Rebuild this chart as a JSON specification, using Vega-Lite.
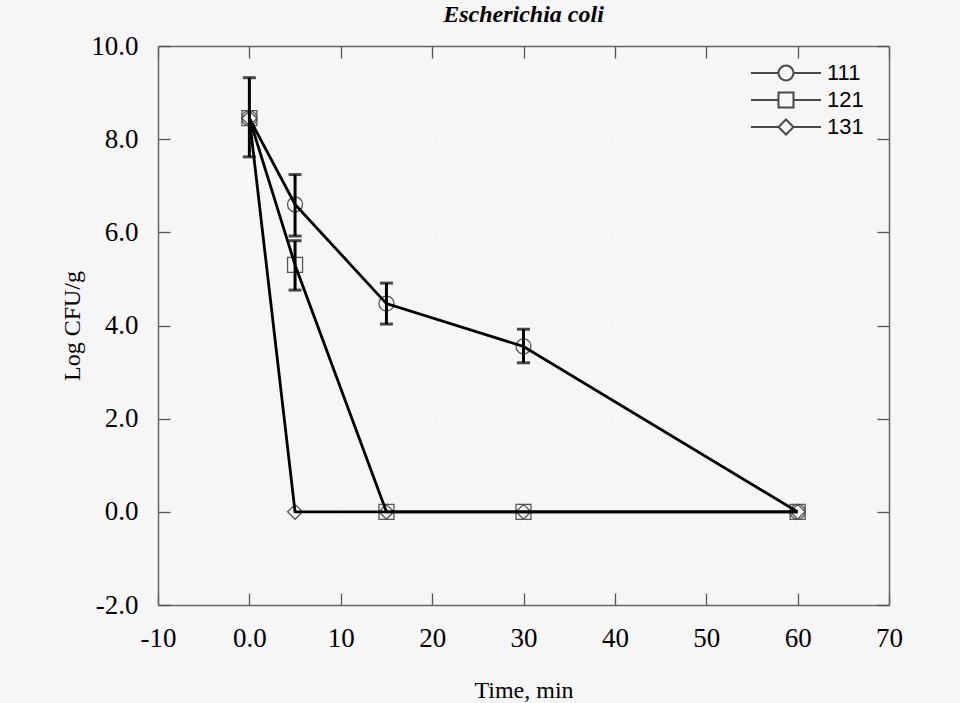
{
  "$schema": "https://vega.github.io/schema/vega-lite/v6.json",
  "width": 731,
  "height": 559,
  "autosize": "none",
  "padding": {"left": 158, "top": 46, "right": 71, "bottom": 98},
  "background": "#f6f6f6",
  "title": {"text": "Escherichia coli", "font": "Liberation Serif", "fontStyle": "italic", "fontWeight": "bold", "fontSize": 24, "color": "black", "anchor": "middle", "offset": 5},
  "config": {
    "view": {"stroke": null},
    "axis": {"domainColor": "#666666", "domainWidth": 1.5, "tickColor": "#555555", "tickWidth": 1.3, "gridColor": "#ffffff", "gridDash": [4, 4], "gridWidth": 1}
  },
  "data": {"values": [
    {"t": 0, "v": 8.45, "s": "111", "lo": 7.62, "hi": 9.32},
    {"t": 5, "v": 6.6, "s": "111", "lo": 5.92, "hi": 7.24},
    {"t": 15, "v": 4.47, "s": "111", "lo": 4.03, "hi": 4.91},
    {"t": 30, "v": 3.55, "s": "111", "lo": 3.2, "hi": 3.92},
    {"t": 60, "v": 0, "s": "111"},
    {"t": 0, "v": 8.45, "s": "121"},
    {"t": 5, "v": 5.3, "s": "121", "lo": 4.76, "hi": 5.82},
    {"t": 15, "v": 0, "s": "121"},
    {"t": 30, "v": 0, "s": "121"},
    {"t": 60, "v": 0, "s": "121"},
    {"t": 0, "v": 8.45, "s": "131"},
    {"t": 5, "v": 0, "s": "131"},
    {"t": 15, "v": 0, "s": "131"},
    {"t": 30, "v": 0, "s": "131"},
    {"t": 60, "v": 0, "s": "131"}
  ]},
  "layer": [
    {
      "mark": {"type": "point", "opacity": 0},
      "encoding": {
        "x": {"field": "t", "type": "quantitative", "scale": {"domain": [-10, 70], "nice": false, "zero": false},
          "axis": {"orient": "top", "values": [-10, 0, 10, 20, 30, 40, 50, 60, 70], "labels": false, "title": null, "tickSize": -12, "grid": false}},
        "y": {"field": "v", "type": "quantitative", "scale": {"domain": [-2, 10], "nice": false, "zero": false},
          "axis": {"orient": "right", "values": [-2, 0, 2, 4, 6, 8, 10], "labels": false, "title": null, "tickSize": -12, "grid": false}}
      }
    },
    {
      "mark": {"type": "point", "filled": false, "size": 225, "stroke": "#555555", "strokeWidth": 1.3, "opacity": 1},
      "encoding": {
        "x": {"field": "t", "type": "quantitative", "scale": {"domain": [-10, 70], "nice": false, "zero": false}, "axis": null},
        "y": {"field": "v", "type": "quantitative", "scale": {"domain": [-2, 10], "nice": false, "zero": false}, "axis": null},
        "shape": {"field": "s", "type": "nominal", "scale": {"domain": ["111", "121", "131"], "range": ["circle", "square", "diamond"]}, "legend": null}
      }
    },
    {
      "mark": {"type": "line", "color": "black", "strokeWidth": 2.8},
      "encoding": {
        "x": {"field": "t", "type": "quantitative", "scale": {"domain": [-10, 70], "nice": false, "zero": false},
          "axis": {"orient": "bottom", "values": [-10, 0, 10, 20, 30, 40, 50, 60, 70],
            "labelExpr": "datum.value == 0 ? '0.0' : (datum.value < 0 ? '-' + toString(-datum.value) : toString(datum.value))",
            "tickSize": -12, "labelPadding": 32, "labelFont": "Liberation Serif", "labelFontSize": 27, "labelColor": "black", "labelFlush": false,
            "title": "Time, min", "titleFont": "Liberation Serif", "titleFontSize": 24, "titleFontWeight": "normal", "titleColor": "black",
            "titleY": 85, "titleBaseline": "middle", "grid": true}},
        "y": {"field": "v", "type": "quantitative", "scale": {"domain": [-2, 10], "nice": false, "zero": false},
          "axis": {"orient": "left", "values": [-2, 0, 2, 4, 6, 8, 10],
            "labelExpr": "datum.value < 0 ? '-' + format(-datum.value, '.1f') : format(datum.value, '.1f')",
            "tickSize": -12, "labelPadding": 32, "labelFont": "Liberation Serif", "labelFontSize": 27, "labelColor": "black", "labelFlush": false,
            "title": "Log CFU/g", "titleFont": "Liberation Serif", "titleFontSize": 24, "titleFontWeight": "normal", "titleColor": "black",
            "titleX": -86, "titleY": 279.5, "titleBaseline": "middle", "titleAlign": "center", "grid": true}},
        "detail": {"field": "s", "type": "nominal"}
      }
    },
    {
      "transform": [{"filter": "isValid(datum.lo)"}],
      "mark": {"type": "errorbar", "ticks": true, "thickness": 3, "size": 13, "color": "black"},
      "encoding": {
        "x": {"field": "t", "type": "quantitative", "scale": {"domain": [-10, 70], "nice": false, "zero": false}, "axis": null},
        "y": {"field": "lo", "type": "quantitative", "scale": {"domain": [-2, 10], "nice": false, "zero": false}, "axis": null},
        "y2": {"field": "hi"}
      }
    },
    {
      "transform": [{"filter": "datum.t < -100"}],
      "mark": {"type": "point", "filled": false, "size": 225, "stroke": "black", "strokeWidth": 2},
      "encoding": {
        "x": {"field": "t", "type": "quantitative", "scale": {"domain": [-10, 70], "nice": false, "zero": false}, "axis": null},
        "y": {"field": "v", "type": "quantitative", "scale": {"domain": [-2, 10], "nice": false, "zero": false}, "axis": null},
        "shape": {"field": "s", "type": "nominal",
          "scale": {"domain": ["111", "121", "131"], "range": [
            "M-4.67,0H-1M1,0H4.67M1,0A1,1,0,1,1,-1,0A1,1,0,1,1,1,0",
            "M-4.67,0H-1M1,0H4.67M-1,-1H1V1H-1Z",
            "M-4.67,0H-1M1,0H4.67M0,-1L1,0L0,1L-1,0Z"]},
          "legend": {"title": null, "orient": "none", "legendX": 617, "legendY": 16, "padding": 0, "symbolSize": 225,
            "labelFont": "Liberation Sans", "labelFontSize": 22, "labelColor": "black", "labelOffset": 30, "rowPadding": 3,
            "symbolStrokeWidth": 2, "symbolStrokeColor": "black", "symbolFillColor": "transparent"}}
      }
    }
  ],
  "resolve": {"axis": {"x": "independent", "y": "independent"}, "scale": {"shape": "independent"}}
}
